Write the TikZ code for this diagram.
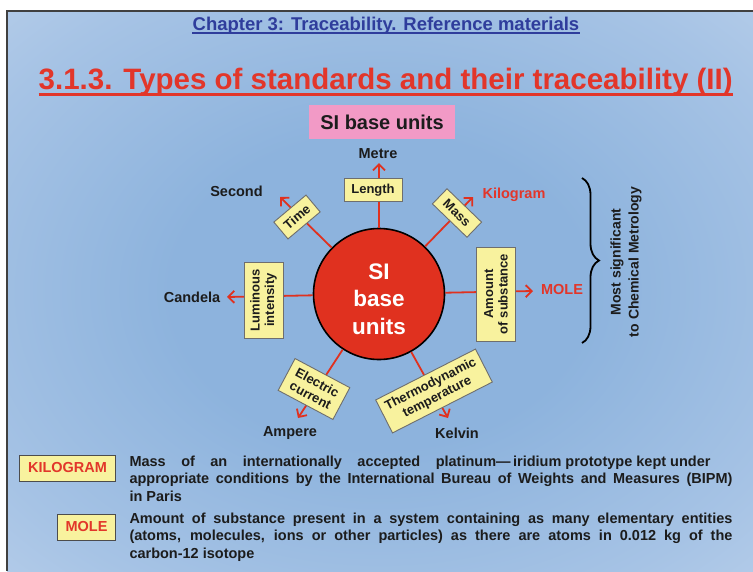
\documentclass[tikz,border=0pt]{standalone}
\usepackage{fontspec}
\setmainfont{Liberation Sans}
\usetikzlibrary{arrows.meta,decorations.pathreplacing}

\definecolor{titlered}{HTML}{E2362A}
\definecolor{chapblue}{HTML}{2F3D9C}
\definecolor{unitred}{HTML}{E0311F}
\definecolor{boxyellow}{HTML}{F8F29E}
\definecolor{boxgray}{HTML}{6E6E6E}
\definecolor{sipink}{HTML}{F29AC6}
\definecolor{inkdark}{HTML}{1C1C1C}
\definecolor{bgA}{HTML}{8DB3DD}
\definecolor{bgB}{HTML}{A6C3E5}
\definecolor{bgC}{HTML}{C2D5ED}
\definecolor{bgD}{HTML}{D9E0F2}
\definecolor{bgE}{HTML}{F5E7F6}
\pgfdeclareradialshading{slidebg}{\pgfpoint{0bp}{0bp}}{color(0bp)=(bgA); color(14bp)=(bgA); color(30bp)=(bgB); color(44bp)=(bgC); color(55bp)=(bgD); color(72bp)=(bgE)}

\newcommand\fsz[2]{\fontsize{#1pt}{#2pt}\selectfont}

\begin{document}
\begin{tikzpicture}[x=1pt, y=-1pt,
   every node/.style={font=\bfseries, text=inkdark},
   unitbox/.style={draw=boxgray, line width=0.9pt, fill=boxyellow, inner sep=1pt,
      align=center, font=\bfseries\fsz{13}{14.5}},
   unitname/.style={font=\bfseries\fsz{14.5}{17}},
   unitarrow/.style={draw=unitred, line width=1.8pt, -{Straight Barb[length=6pt,width=12pt]}},
   defbox/.style={draw=black!70, line width=1pt, fill=boxyellow, text=titlered,
      font=\bfseries\fsz{14.5}{17}, inner sep=0pt},
   deftext/.style={font=\bfseries\fsz{14.5}{17.5}, inner sep=0pt, anchor=north west, align=left}]

% slide background
\useasboundingbox (0,0) rectangle (753,571);
\fill[white] (0,0) rectangle (753,571);
\shade[shading=slidebg] (7,11) rectangle (753,571);
\draw[black!75, line width=1.2pt] (7,571) -- (7,11) -- (753,11);

% headings
\node[font=\bfseries\fsz{18.5}{22}, text=chapblue, inner sep=0pt, anchor=base] (chapter) at (386,30.7)
   {Chapter 3: Traceability. Reference materials};
\draw[chapblue, line width=1.6pt] ([yshift=-2pt]chapter.base west) -- ([yshift=-2pt]chapter.base east);
\node[font=\bfseries\fsz{29.5}{34}, text=titlered, inner sep=0pt, anchor=base] (title) at (385.7,89.3)
   {3.1.3. Types of standards and their traceability (II)};
\draw[titlered, line width=2.6pt] ([yshift=-5pt]title.base west) -- ([yshift=-5pt]title.base east);
\node[fill=sipink, minimum width=146pt, minimum height=34pt, font=\bfseries\fsz{20}{24}] (sibox) at (382,122) {SI base units};

% arrow tips
\coordinate (lentip)   at (379,163);
\coordinate (timetip)  at (280,197);
\coordinate (masstip)  at (473,197);
\coordinate (amttip)   at (533,291);
\coordinate (lumtip)   at (227,297);
\coordinate (electip)  at (298,418);
\coordinate (thermtip) at (448,418);

\node[circle, fill=unitred, draw=black, line width=1.6pt, minimum size=131pt, inner sep=0pt,
   text=white, align=center, font=\bfseries\fsz{22.5}{27.8}] (siunits) at (379,294)
   {\rule{0pt}{26pt}SI\\base\\units};

\foreach \tip in {lentip,timetip,masstip,amttip,lumtip,electip,thermtip}
   \draw[unitarrow] (siunits) -- (\tip);

% quantity boxes
\node[unitbox, minimum width=58pt, minimum height=23pt] (lenbox) at (373,190) {Length};
\node[unitbox, minimum width=42pt, minimum height=22pt, rotate=40] (timebox) at (297,217) {Time};
\node[unitbox, minimum width=48pt, minimum height=21pt, rotate=-44] (massbox) at (457,213) {Mass};
\node[unitbox, minimum width=94pt, minimum height=39pt, rotate=90] (amtbox) at (496,294) {Amount\\of substance};
\node[unitbox, minimum width=76pt, minimum height=39pt, rotate=90] (lumbox) at (263.5,300) {Luminous\\intensity};
\node[unitbox, minimum width=62pt, minimum height=36pt, rotate=-28] (elecbox) at (314,389) {Electric\\current};
\node[unitbox, minimum width=112pt, minimum height=37pt, rotate=27] (thermbox) at (434,391) {Thermodynamic\\temperature};

% unit names
\node[unitname] (metre)    at (378,154) {Metre};
\node[unitname] (second)   at (236.5,191) {Second};
\node[unitname, text=titlered] (kilogram) at (514,195) {Kilogram};
\node[unitname] (candela)  at (192,297) {Candela};
\node[unitname, text=titlered] (mole) at (562,290) {MOLE};
\node[unitname] (ampere)   at (290,433) {Ampere};
\node[unitname] (kelvin)   at (457,433) {Kelvin};

% brace
\coordinate (bracetop) at (582,178);
\coordinate (bracebot) at (582,343);
\draw[line width=1.8pt, decorate, decoration={brace, amplitude=17pt, aspect=0.5}] (bracetop) -- (bracebot);
\node[font=\bfseries\fsz{14}{18}, rotate=90, align=center] (chemnote) at (626,262)
   {Most significant\\to Chemical Metrology};

% definitions
\node[defbox, minimum width=96pt, minimum height=26pt] (kgkey) at (67.5,468) {KILOGRAM};
\node[defbox, minimum width=58pt, minimum height=26pt] (molekey) at (86.5,527) {MOLE};
\node[deftext] (kgdef) at (129.3,455.4)
   {\makebox[581pt][l]{Mass\hfill of\hfill an\hfill internationally\hfill accepted\hfill platinum—\,iridium prototype kept under}\\
    \makebox[603pt][s]{appropriate conditions by the International Bureau of Weights and Measures (BIPM)}\\
    in Paris};
\node[deftext] (moledef) at (129.3,512.7)
   {\makebox[603pt][s]{Amount of substance present in a system containing as many elementary entities}\\
    \makebox[603pt][s]{(atoms, molecules, ions or other particles) as there are atoms in 0.012 kg of the}\\
    carbon-12 isotope};
\end{tikzpicture}
\end{document}
